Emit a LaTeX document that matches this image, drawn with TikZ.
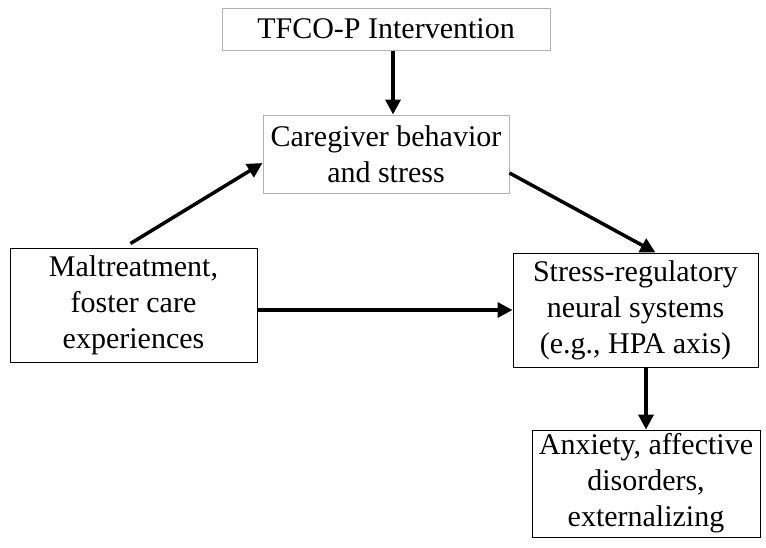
\documentclass[tikz,border=0pt]{standalone}
\usepackage{fontspec}
\setmainfont{Liberation Serif}
\usetikzlibrary{arrows.meta}
\begin{document}
\begin{tikzpicture}[
        x=1pt, y=-1pt,
        b/.style={draw,line width=1pt,rectangle,align=center,inner sep=0pt,font=\fontsize{30}{36}\selectfont},
        g/.style={b,draw=gray!60},
        a/.style={-{Triangle[length=15pt,width=15pt]},line width=3.5pt}
    ]

    \useasboundingbox (0,0) rectangle (766,547);

    \node[g,minimum width=328pt,minimum height=42pt] (tfco) at (386,29) {TFCO-P Intervention};
    \node[g,minimum width=246pt,minimum height=78pt] (care) at (386,154) {Caregiver behavior\\and stress};
    \node[b,minimum width=247pt,minimum height=114pt] (malt) at (133.5,305) {Maltreatment,\\foster care\\experiences};
    \node[b,minimum width=245pt,minimum height=114pt] (stress) at (635.5,310) {Stress-regulatory\\neural systems\\(e.g., HPA axis)};
    \node[b,minimum width=228pt,minimum height=107pt] (anx) at (646,483.5) {Anxiety, affective\\disorders,\\externalizing};

    \draw[a] ([xshift=7pt]tfco.south) -- ([xshift=7pt]tfco.south |- care.north);
    \draw[a] ([xshift=-3pt,yshift=4pt]malt.north) -- ([yshift=-9pt]care.west);
    \draw[a] ([yshift=-19pt]care.east) -- ([xshift=20pt]stress.north);
    \draw[a] ([yshift=-5pt]malt.east) -- (stress.west);
    \draw[a] (stress.south -| anx.north) -- (anx.north);

\end{tikzpicture}
\end{document}
